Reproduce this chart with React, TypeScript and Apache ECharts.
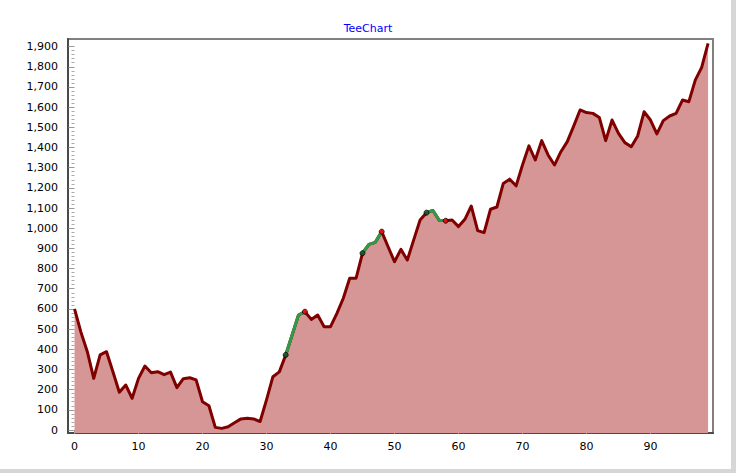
import React, { useEffect, useRef } from "react";
import * as echarts from "echarts";

const titleText = "TeeChart";

const values: number[] = [
  600, 485, 388, 256, 372, 388, 289, 187, 223, 157,
  256, 317, 284, 289, 274, 287, 210, 254, 259, 248,
  140, 120, 13, 8, 16, 36, 55, 58, 55, 42,
  149, 264, 288, 372, 471, 570, 586, 548, 570, 512,
  512, 578, 653, 752, 752, 876, 920, 930, 983, 908,
  834, 895, 842, 942, 1041, 1077, 1088, 1039, 1037, 1041,
  1008, 1044, 1110, 988, 978, 1094, 1105, 1222, 1243, 1210,
  1313, 1408, 1338, 1434, 1363, 1313, 1379, 1429, 1506, 1586,
  1573, 1569, 1549, 1434, 1536, 1470, 1424, 1404, 1457, 1577,
  1536, 1467, 1533, 1556, 1569, 1635, 1627, 1734, 1797, 1916,
];

const trendStarts: number[] = [33, 45, 55];
const trendEnds: number[] = [36, 48, 58];

const xTickValues: number[] = [0, 10, 20, 30, 40, 50, 60, 70, 80, 90];

const FONT = "DejaVu Sans";

export default function App() {
  const ref = useRef<HTMLDivElement>(null);

  useEffect(() => {
    if (!ref.current) return;
    const chart = echarts.init(ref.current, null, { renderer: "svg" });

    const mainData = values.map((v, i) => [i, v]);

    const trendSeries = trendStarts.map((s, k) => {
      const e = trendEnds[k];
      const d: number[][] = [];
      for (let i = s; i <= e; i++) d.push([i, values[i]]);
      return {
        type: "line",
        xAxisIndex: 0,
        yAxisIndex: 0,
        data: d,
        showSymbol: false,
        symbol: "none",
        lineStyle: { color: "#2f9a47", width: 3 },
        z: 4,
        silent: true,
      };
    });

    const markerData: any[] = [];
    trendStarts.forEach((s) => {
      markerData.push({ value: [s, values[s]], itemStyle: { color: "#0f5a22" } });
    });
    trendEnds.forEach((e) => {
      markerData.push({ value: [e, values[e]], itemStyle: { color: "#ff0000" } });
    });

    const option: any = {
      animation: false,
      backgroundColor: "#ffffff",
      title: {
        text: titleText,
        left: "center",
        top: 18,
        textStyle: { color: "#0000ff", fontSize: 11, fontWeight: "normal", fontFamily: FONT },
      },
      graphic: [
        { type: "rect", shape: { x: 731, y: 0, width: 5, height: 473 }, style: { fill: "#d6d6d6" }, silent: true },
        { type: "rect", shape: { x: 0, y: 469, width: 736, height: 4 }, style: { fill: "#d6d6d6" }, silent: true },
      ],
      grid: [
        {
          left: 68,
          right: 23,
          top: 39,
          bottom: 40,
          show: true,
          borderColor: "#808080",
          borderWidth: 2,
          backgroundColor: "transparent",
        },
        {
          left: 74.5,
          right: 21.5,
          top: 46.6,
          bottom: 43,
          show: false,
        },
      ],
      xAxis: [
        {
          gridIndex: 0,
          type: "value",
          min: -1.02,
          max: 99.77,
          axisLine: { show: true, onZero: false, lineStyle: { color: "#4a4a4a", width: 2 } },
          axisTick: { show: false },
          axisLabel: { show: false },
          splitLine: { show: false },
        },
        {
          gridIndex: 1,
          type: "value",
          min: 0,
          max: 100,
          interval: 10,
          offset: 3,
          axisLine: { show: false },
          axisTick: {
            show: true,
            length: 4,
            customValues: xTickValues,
            lineStyle: { color: "#999999", width: 1 },
          },
          minorTick: { show: true, splitNumber: 4, length: 3, lineStyle: { color: "#aaaaaa", width: 1 } },
          axisLabel: {
            show: true,
            margin: 8,
            customValues: xTickValues,
            color: "#000000",
            fontSize: 11,
            fontFamily: FONT,
          },
          splitLine: { show: false },
        },
      ],
      yAxis: [
        {
          gridIndex: 0,
          type: "value",
          min: -14.9,
          max: 1937.6,
          axisLine: { show: true, onZero: false, lineStyle: { color: "#4a4a4a", width: 2 } },
          axisTick: { show: false },
          axisLabel: { show: false },
          splitLine: { show: false },
        },
        {
          gridIndex: 1,
          type: "value",
          min: 0,
          max: 1900,
          interval: 100,
          offset: 6.5,
          axisLine: { show: false },
          axisTick: { show: true, length: 6, lineStyle: { color: "#999999", width: 1 } },
          minorTick: { show: true, splitNumber: 5, length: 3, lineStyle: { color: "#aaaaaa", width: 1 } },
          axisLabel: {
            show: true,
            margin: 10,
            color: "#000000",
            fontSize: 11,
            fontFamily: FONT,
            formatter: (v: number) => v.toLocaleString("en-US"),
          },
          splitLine: { show: false },
        },
      ],
      series: [
        {
          type: "line",
          xAxisIndex: 0,
          yAxisIndex: 0,
          data: mainData,
          showSymbol: false,
          symbol: "none",
          lineStyle: { color: "#800000", width: 3, join: "round" },
          areaStyle: { color: "#d69696", opacity: 1, origin: "start" },
          z: 3,
          silent: true,
        },
        ...trendSeries,
        {
          type: "scatter",
          xAxisIndex: 0,
          yAxisIndex: 0,
          data: markerData,
          symbol: "circle",
          symbolSize: 5,
          itemStyle: { borderColor: "#000000", borderWidth: 1 },
          z: 5,
          silent: true,
        },
      ],
    };

    chart.setOption(option);
    return () => {
      chart.dispose();
    };
  }, []);

  return (
    <div
      ref={ref}
      style={{ position: "fixed", left: 0, top: 0, width: 736, height: 473 }}
    />
  );
}
